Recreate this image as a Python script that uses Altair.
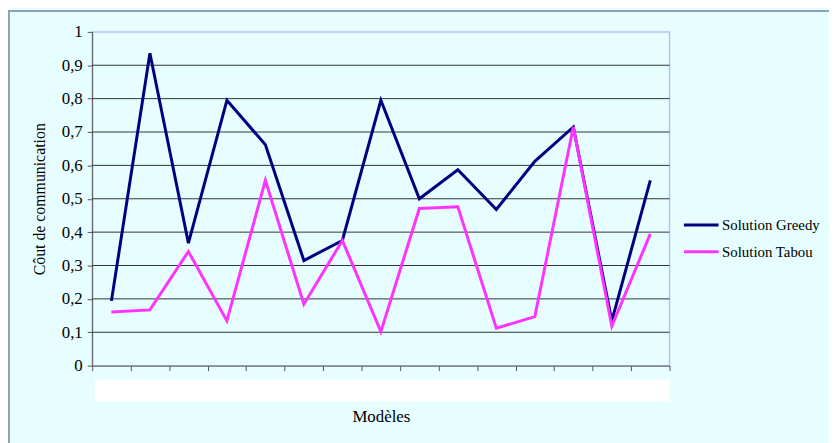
import altair as alt
import pandas as pd

models = list(range(1, 16))
greedy = [0.194, 0.936, 0.367, 0.795, 0.662, 0.315, 0.375, 0.795, 0.50, 0.587, 0.468, 0.612, 0.715, 0.134, 0.555]
tabou = [0.161, 0.167, 0.342, 0.134, 0.555, 0.184, 0.375, 0.102, 0.471, 0.476, 0.112, 0.147, 0.715, 0.118, 0.395]
series_names = ["Solution Greedy", "Solution Tabou"]
series_colors = ["#000080", "#ff33ff"]
y_ticks = [0, 0.1, 0.2, 0.3, 0.4, 0.5, 0.6, 0.7, 0.8, 0.9, 1]
grid_vals = [0.1, 0.2, 0.3, 0.4, 0.5, 0.6, 0.7, 0.8, 0.9]

rows = []
for name, vals in zip(series_names, [greedy, tabou]):
    for m, v in zip(models, vals):
        rows.append({"model": m, "value": v, "series": name})
df = pd.DataFrame(rows)

W, H = 583, 337
FONT = "Liberation Serif, Times New Roman, serif"

yscale = alt.Scale(domain=[0, 1], nice=False)
yaxis = alt.Axis(values=y_ticks,
                 labelExpr="replace(format(datum.value, '.1~f'), '.', ',')",
                 labelOverlap=False, labelFlush=False,
                 grid=False, tickSize=5, tickColor="#555555", domainColor="#555555",
                 labelFont=FONT, labelFontSize=17, labelColor="#000000", labelPadding=5,
                 title="Côut de communication", titlePadding=14, titleFont=FONT,
                 titleFontSize=16, titleFontWeight="normal", titleColor="#000000")

grid = alt.Chart(pd.DataFrame({"g": grid_vals})).mark_rule(
    color="#333333", strokeWidth=1).encode(y=alt.Y("g:Q", scale=yscale, axis=yaxis))

lines = alt.Chart(df).mark_line(strokeWidth=3, clip=False).encode(
    x=alt.X("model:Q",
            scale=alt.Scale(domain=[0.5, 15.5], nice=False, zero=False),
            axis=alt.Axis(values=[0.5 + i for i in range(16)], labels=False, grid=False,
                          tickSize=5, tickColor="#555555", domainColor="#555555",
                          title="Modèles", titlePadding=38, titleFont=FONT,
                          titleFontSize=17, titleFontWeight="normal", titleColor="#000000")),
    y=alt.Y("value:Q", scale=yscale, axis=yaxis),
    color=alt.Color("series:N",
                    scale=alt.Scale(domain=series_names, range=series_colors),
                    legend=alt.Legend(title=None, orient="none", legendX=596, legendY=176,
                                      symbolType="stroke", symbolStrokeWidth=3, symbolSize=1225,
                                      labelFont=FONT, labelFontSize=15, labelColor="#000000",
                                      labelOffset=2, rowPadding=-19, labelLimit=200)),
)

band = alt.Chart(pd.DataFrame({"a": [0]})).mark_rect(color="#ffffff", clip=False).encode(
    x=alt.value(3), x2=alt.value(583), y=alt.value(351), y2=alt.value(373))

border_top = alt.Chart(pd.DataFrame({"a": [0]})).mark_rule(color="#8da3b5", strokeWidth=2, clip=False).encode(
    x=alt.value(-83), x2=alt.value(760), y=alt.value(-21))
border_left = alt.Chart(pd.DataFrame({"a": [0]})).mark_rule(color="#8da3b5", strokeWidth=2, clip=False).encode(
    x=alt.value(-84), y=alt.value(-22), y2=alt.value(420))

chart = alt.layer(grid, border_top, border_left, band, lines).properties(
    width=W, height=H,
    autosize=alt.AutoSizeParams(type="none"),
    padding={"left": 85, "top": 22, "right": 161, "bottom": 76},
    background="#e6feff",
).configure_view(stroke="#b8c4f0", strokeWidth=1.5, fill="#e6feff")

chart.save("out.html", embed_options={"renderer": "svg", "actions": False})
